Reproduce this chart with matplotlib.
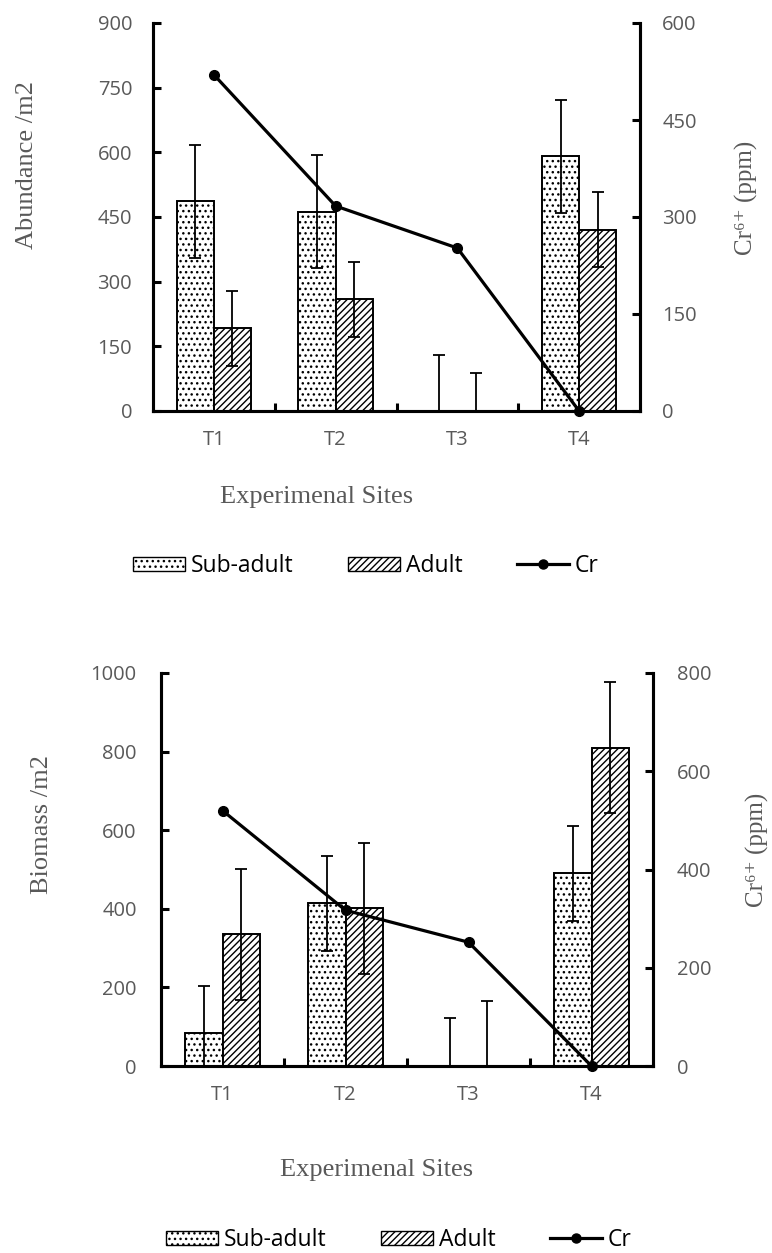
import numpy as np
import matplotlib
matplotlib.use('Agg')
import matplotlib.pyplot as plt
from matplotlib.patches import Patch
from matplotlib.lines import Line2D

# data
sites = ['T1', 'T2', 'T3', 'T4']
cr_ppm = [520, 317, 252, 0]

abund_sub = [487, 462, 0, 591]
abund_sub_err = [131, 131, 131, 131]
abund_adult = [192, 259, 0, 420]
abund_adult_err = [87, 87, 87, 87]

bio_sub = [83, 414, 0, 490]
bio_sub_err = [121, 121, 121, 121]
bio_adult = [335, 401, 0, 810]
bio_adult_err = [166, 166, 166, 166]

GRAY = '#595959'
W, H = 772, 1253
plt.rcParams['hatch.linewidth'] = 1.0

fig = plt.figure(figsize=(W / 100, H / 100), dpi=100)


def px_axes(left, right, top, bottom):
    return fig.add_axes([left / W, 1 - bottom / H, (right - left) / W, (bottom - top) / H])


def draw_panel(ax, sub, sub_err, adult, adult_err, ymax, ystep, rmax, rstep, pads):
    x = np.arange(len(sites))
    w = 0.305
    ax.bar(x - w / 2, sub, w, facecolor='white', edgecolor='black', linewidth=1.4, hatch='...', zorder=2)
    ax.bar(x + w / 2, adult, w, facecolor='white', edgecolor='black', linewidth=1.4, hatch='/////', zorder=2)
    ax.errorbar(x - w / 2, sub, yerr=sub_err, fmt='none', ecolor='black', elinewidth=1.3,
                capsize=4.5, capthick=1.3, zorder=3)
    ax.errorbar(x + w / 2, adult, yerr=adult_err, fmt='none', ecolor='black', elinewidth=1.3,
                capsize=4.5, capthick=1.3, zorder=3)
    ax.set_xlim(-0.5, len(sites) - 0.5)
    ax.set_ylim(0, ymax)
    ax.set_yticks(np.arange(0, ymax + 1, ystep))
    ax.set_xticks([0.5, 1.5, 2.5])
    ax.set_xticklabels([])
    ax.set_xticks(x, minor=True)
    ax.set_xticklabels(sites, minor=True, fontsize=14.5, color=GRAY, family='Open Sans')
    ax.tick_params(axis='x', which='major', direction='in', length=6, width=2.2)
    ax.tick_params(axis='x', which='minor', length=0, pad=pads[2])
    ax.tick_params(axis='y', direction='in', length=6, width=2.2, labelsize=14.5,
                   labelcolor=GRAY, pad=pads[0])
    for lab in ax.get_yticklabels():
        lab.set_family('Open Sans')
    ax.spines['top'].set_visible(False)
    for s in ('left', 'bottom', 'right'):
        ax.spines[s].set_linewidth(2.2)

    ax2 = ax.twinx()
    ax2.plot(x, cr_ppm, color='black', linewidth=2.3, marker='o', markersize=7, clip_on=False, zorder=5)
    ax2.set_ylim(0, rmax)
    ax2.set_yticks(np.arange(0, rmax + 1, rstep))
    ax2.tick_params(axis='y', direction='in', length=6, width=2.2, labelsize=14.5,
                    labelcolor=GRAY, pad=pads[1])
    for lab in ax2.get_yticklabels():
        lab.set_family('Open Sans')
    ax2.spines['top'].set_visible(False)
    for s in ('left', 'bottom', 'right'):
        ax2.spines[s].set_linewidth(2.2)
    return ax2


def legend_at(cx, cy):
    handles = [
        Patch(facecolor='white', edgecolor='black', hatch='...', linewidth=1.0),
        Patch(facecolor='white', edgecolor='black', hatch='/////', linewidth=1.0),
        Line2D([], [], color='black', linewidth=2.3, marker='o', markersize=6.5),
    ]
    fig.legend(handles, ['Sub-adult', 'Adult', 'Cr'], loc='center',
               bbox_to_anchor=(cx / W, 1 - cy / H), ncol=3, frameon=False,
               prop={'family': 'Open Sans', 'size': 16.5}, handlelength=2.25,
               handleheight=0.6, handletextpad=0.25, columnspacing=2.4)


def fig_label(x, y, text, rot=90, size=19):
    fig.text(x / W, 1 - y / H, text, rotation=rot, ha='center', va='center',
             color=GRAY, fontsize=size, family=['Liberation Serif', 'DejaVu Serif'])


# top panel: abundance
ax_top = px_axes(153, 640, 23, 411)
draw_panel(ax_top, abund_sub, abund_sub_err, abund_adult, abund_adult_err,
           900, 150, 600, 150, (15, 16, 14))
fig_label(27, 165, 'Abundance /m2')
fig_label(746, 198, 'Cr⁶⁺ (ppm)', size=18)
fig_label(317, 497, 'Experimenal Sites', rot=0)
legend_at(366, 566)

# bottom panel: biomass
ax_bot = px_axes(161, 653, 673, 1066)
draw_panel(ax_bot, bio_sub, bio_sub_err, bio_adult, bio_adult_err,
           1000, 200, 800, 200, (17.5, 17, 14))
fig_label(42, 825, 'Biomass /m2')
fig_label(757, 850, 'Cr⁶⁺ (ppm)', size=18)
fig_label(377, 1170, 'Experimenal Sites', rot=0)
legend_at(399, 1240)

fig.savefig('out.png', dpi=100)
